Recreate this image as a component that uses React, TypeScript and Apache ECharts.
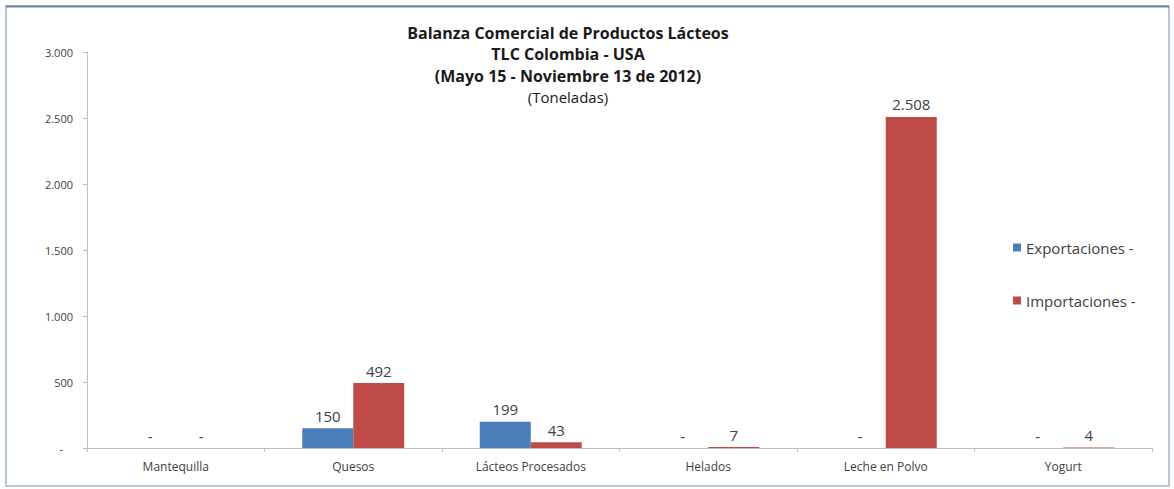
import React, { useEffect, useRef } from "react";
import * as echarts from "echarts";

const categories = ["Mantequilla", "Quesos", "Lácteos Procesados", "Helados", "Leche en Polvo", "Yogurt"];
const exportaciones = [0, 150, 199, 0, 0, 0];
const importaciones = [0, 492, 43, 7, 2508, 4];
const seriesNames = ["Exportaciones -", "Importaciones -"];
const titleLines = [
  "Balanza Comercial de Productos Lácteos",
  "TLC Colombia - USA",
  "(Mayo 15 - Noviembre 13 de 2012)",
];
const subtitle = "(Toneladas)";

const FONT = "Open Sans";

function fmt(v: number): string {
  if (v === 0) return "-";
  return String(v).replace(/\B(?=(\d{3})+(?!\d))/g, ".");
}

export default function App() {
  const ref = useRef<HTMLDivElement>(null);
  useEffect(() => {
    if (!ref.current) return;
    const chart = echarts.init(ref.current, undefined, { renderer: "svg" });
    const labelCfg = {
      show: true,
      position: "top" as const,
      distance: 5,
      color: "#404040",
      fontFamily: FONT,
      fontSize: 15,
      formatter: (p: any) => fmt(p.value),
    };
    chart.setOption({
      animation: false,
      backgroundColor: "#ffffff",
      textStyle: { fontFamily: FONT },
      title: {
        left: 563,
        top: 17,
        textAlign: "center",
        text:
          titleLines.map((l) => `{b|${l}}`).join("\n") + `\n{n|${subtitle}}`,
        textStyle: {
          rich: {
            b: { fontFamily: FONT, fontSize: 16, fontWeight: "bold", color: "#1a1a1a", lineHeight: 21.5 },
            n: { fontFamily: FONT, fontSize: 15, fontWeight: "normal", color: "#1a1a1a", lineHeight: 21.5 },
          },
        },
      },
      legend: {
        orient: "vertical",
        left: 1008,
        top: 235,
        itemWidth: 8,
        itemHeight: 8,
        itemGap: 38,
        icon: "rect",
        textStyle: { fontFamily: FONT, fontSize: 15, color: "#404040" },
        data: seriesNames,
      },
      grid: { left: 87, right: 22, top: 52, bottom: 41, containLabel: false },
      xAxis: {
        type: "category",
        data: categories,
        axisLine: { lineStyle: { color: "#bfbfbf", width: 1 } },
        axisTick: { show: true, length: 4, lineStyle: { color: "#bfbfbf" } },
        axisLabel: { color: "#404040", fontSize: 12, fontFamily: FONT, margin: 12 },
      },
      yAxis: {
        type: "value",
        min: 0,
        max: 3000,
        interval: 500,
        axisLine: { show: true, lineStyle: { color: "#bfbfbf", width: 1 } },
        axisTick: { show: true, length: 4, lineStyle: { color: "#bfbfbf" } },
        splitLine: { show: false },
        axisLabel: {
          color: "#404040",
          fontSize: 11,
          fontFamily: FONT,
          margin: 14,
          formatter: (v: number) => (v === 0 ? "{d|-}" : fmt(v)),
          rich: { d: { color: "#404040", fontSize: 11, fontFamily: FONT, padding: [0, 10, 0, 0] } },
        },
      },
      series: [
        {
          name: seriesNames[0],
          type: "bar",
          data: exportaciones,
          barWidth: 51,
          barGap: "0%",
          itemStyle: { color: "#4a7ebb" },
          label: labelCfg,
        },
        {
          name: seriesNames[1],
          type: "bar",
          data: importaciones,
          barWidth: 51,
          barGap: "0%",
          itemStyle: { color: "#be4b48" },
          label: labelCfg,
        },
      ],
      graphic: [
        {
          type: "rect",
          shape: { x: 6, y: 6, width: 1163, height: 480 },
          style: { fill: "none", stroke: "#9db4d0", lineWidth: 1.5 },
          silent: true,
        },
        {
          type: "line",
          shape: { x1: 6, y1: 6.5, x2: 1169, y2: 6.5 },
          style: { stroke: "#6f829e", lineWidth: 2 },
          silent: true,
        },
      ],
    });
    return () => chart.dispose();
  }, []);
  return (
    <div
      ref={ref}
      style={{ position: "fixed", left: 0, top: 0, width: 1174, height: 489 }}
    />
  );
}
